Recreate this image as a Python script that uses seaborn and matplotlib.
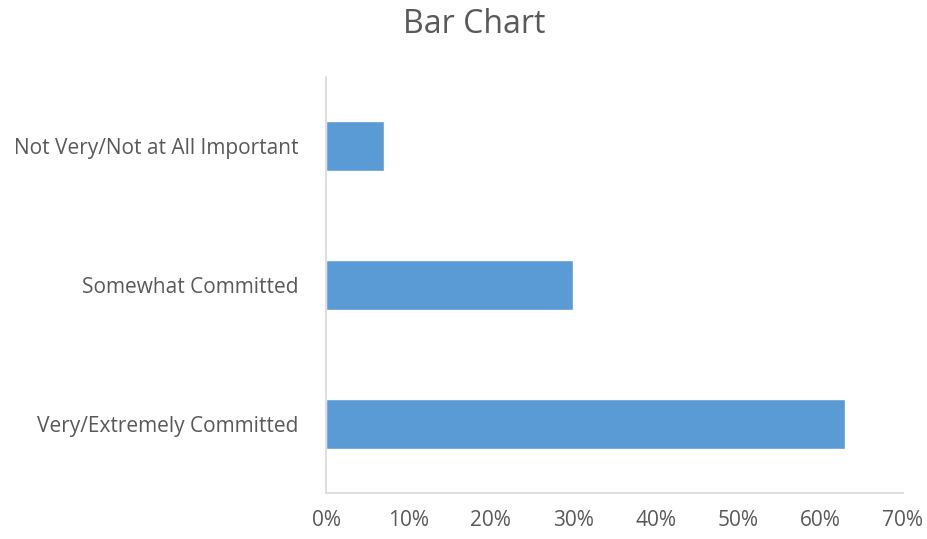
import matplotlib
matplotlib.use("Agg")
import matplotlib.pyplot as plt
import seaborn as sns
import pandas as pd
from matplotlib.ticker import FuncFormatter

categories = ["Not Very/Not at All Important", "Somewhat Committed", "Very/Extremely Committed"]
shares = [0.07, 0.30, 0.63]
x_ticks = [0.0, 0.1, 0.2, 0.3, 0.4, 0.5, 0.6, 0.7]

sns.set_theme(style="white")
plt.rcParams["font.family"] = ["Open Sans", "DejaVu Sans"]

text_color = "#595959"
bar_color = "#5B9BD5"
axis_color = "#D9D9D9"

df = pd.DataFrame({"category": categories, "share": shares})

fig = plt.figure(figsize=(9.28, 5.39), dpi=100)
ax = fig.add_axes([0.3513, 0.0853, 0.973 - 0.3513, 0.857 - 0.0853])

sns.barplot(data=df, x="share", y="category", orient="h", color=bar_color,
            saturation=1, width=0.36, ax=ax)

ax.set_xlim(0, 0.7)
ax.set_ylim(2.5, -0.5)
ax.set_xticks(x_ticks)
ax.xaxis.set_major_formatter(FuncFormatter(lambda v, _: f"{v * 100:.0f}%"))
ax.set_xlabel("")
ax.set_ylabel("")
ax.tick_params(axis="both", length=0, colors=text_color, labelsize=15)
ax.tick_params(axis="x", pad=12)
ax.tick_params(axis="y", pad=20)

for side in ["top", "right"]:
    ax.spines[side].set_visible(False)
for side in ["left", "bottom"]:
    ax.spines[side].set_color(axis_color)
    ax.spines[side].set_linewidth(1.2)

fig.text(0.511, 0.955, "Bar Chart", ha="center", va="center",
         fontsize=23, color=text_color)

fig.savefig("out.png", dpi=100, facecolor="white")
